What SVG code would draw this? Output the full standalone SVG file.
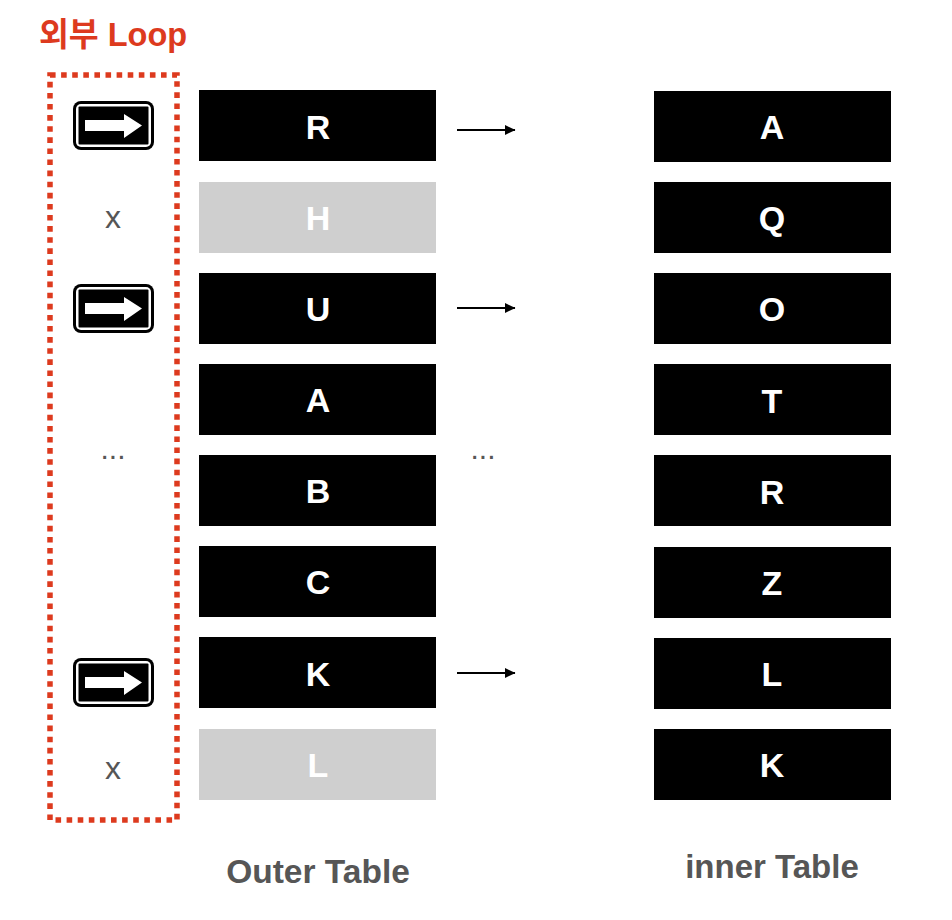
<svg xmlns="http://www.w3.org/2000/svg" width="952" height="920" viewBox="0 0 952 920">
<style>
text{font-family:"Liberation Sans","Noto Sans CJK KR",sans-serif;text-anchor:middle}
.b{fill:#000}.g{fill:#cfcfcf}
.l{font-size:34px;font-weight:700;fill:#fff}
.c{font-weight:700;fill:#565656}
.m{font-size:32px;fill:#565656}
.d{font-size:30px;fill:#565656}
.conn{stroke:#000;stroke-width:2;fill:none;marker-end:url(#ah)}
</style>
<defs>
<marker id="ah" markerUnits="userSpaceOnUse" markerWidth="11" markerHeight="11" refX="10" refY="5.5" orient="auto"><path d="M0 0.500L10.500 5.500L0 10.500Z" fill="#000"/></marker>
<g id="icon">
<rect x="0" y="0" width="81" height="49" rx="8" fill="#000"/>
<rect x="3" y="3" width="75" height="43" rx="5" fill="#fff"/>
<rect x="5.500" y="5.500" width="70" height="38" rx="1" fill="#000"/>
<path d="M12 19H51V13L69 24.500L51 37V30H12Z" fill="#fff"/>
</g>
</defs>
<g id="title"><text x="113" y="46" style="font-size:32.500px;font-weight:700;fill:#dd3a1e">외부 Loop</text></g>
<g id="loop"><rect x="50" y="75" width="127" height="745" fill="none" stroke="#dd3a1e" stroke-width="5.500" stroke-dasharray="5.600 5.500"/>
<use href="#icon" x="73" y="101"/>
<text x="113" y="228" class="m">x</text>
<use href="#icon" x="73" y="284"/>
<text x="113" y="459" class="d">...</text>
<use href="#icon" x="73" y="658"/>
<text x="113" y="779" class="m">x</text></g>
<g id="outer-R"><rect x="199" y="90" width="237" height="71" class="b"/><text x="318" y="139" class="l">R</text></g>
<g id="outer-H"><rect x="199" y="182" width="237" height="71" class="g"/><text x="318" y="230" class="l">H</text></g>
<g id="outer-U"><rect x="199" y="273" width="237" height="71" class="b"/><text x="318" y="321" class="l">U</text></g>
<g id="outer-A"><rect x="199" y="364" width="237" height="71" class="b"/><text x="318" y="412" class="l">A</text></g>
<g id="outer-B"><rect x="199" y="455" width="237" height="71" class="b"/><text x="318" y="503" class="l">B</text></g>
<g id="outer-C"><rect x="199" y="546" width="237" height="71" class="b"/><text x="318" y="594" class="l">C</text></g>
<g id="outer-K"><rect x="199" y="637" width="237" height="71" class="b"/><text x="318" y="686" class="l">K</text></g>
<g id="outer-L"><rect x="199" y="729" width="237" height="71" class="g"/><text x="318" y="777" class="l">L</text></g>
<g id="inner-A"><rect x="654" y="91" width="237" height="71" class="b"/><text x="772" y="139" class="l">A</text></g>
<g id="inner-Q"><rect x="654" y="182" width="237" height="71" class="b"/><text x="772" y="230" class="l">Q</text></g>
<g id="inner-O"><rect x="654" y="273" width="237" height="71" class="b"/><text x="772" y="321" class="l">O</text></g>
<g id="inner-T"><rect x="654" y="364" width="237" height="71" class="b"/><text x="772" y="413" class="l">T</text></g>
<g id="inner-R"><rect x="654" y="455" width="237" height="71" class="b"/><text x="772" y="504" class="l">R</text></g>
<g id="inner-Z"><rect x="654" y="547" width="237" height="71" class="b"/><text x="772" y="595" class="l">Z</text></g>
<g id="inner-L"><rect x="654" y="638" width="237" height="71" class="b"/><text x="772" y="686" class="l">L</text></g>
<g id="inner-K"><rect x="654" y="729" width="237" height="71" class="b"/><text x="772" y="777" class="l">K</text></g>
<g id="connectors">
<line x1="457" y1="130" x2="515" y2="130" class="conn"/>
<line x1="457" y1="308" x2="515" y2="308" class="conn"/>
<line x1="457" y1="673" x2="515" y2="673" class="conn"/>
</g>
<text x="483" y="459" class="d">...</text>
<g id="label-outer"><text x="318" y="883" class="c" style="font-size:33.500px">Outer Table</text></g>
<g id="label-inner"><text x="772" y="878" class="c" style="font-size:33px">inner Table</text></g>
</svg>
